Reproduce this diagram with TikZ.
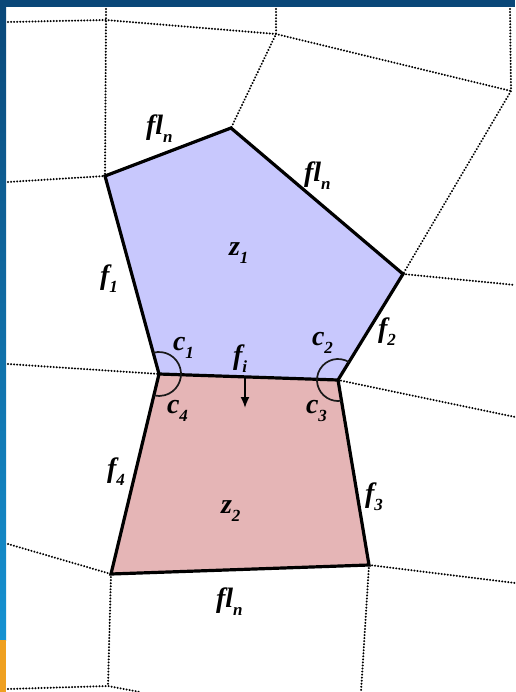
\documentclass[tikz,border=0pt]{standalone}
\usepackage{fontspec}
\setmainfont{Liberation Serif}
\usetikzlibrary{arrows.meta}
\definecolor{bandtop}{HTML}{0A4778}
\definecolor{bandbot}{HTML}{1592D2}
\definecolor{bandor}{HTML}{EFA020}
\definecolor{zoneA}{HTML}{C8C8FD}
\definecolor{zoneB}{HTML}{E5B5B6}
\newcommand\lbl[2]{\fontsize{28}{28}\selectfont\bfseries\itshape #1\raisebox{-8pt}{\fontsize{17}{17}\selectfont #2}}
\begin{document}
\begin{tikzpicture}[x=1pt,y=-1pt,
  grid/.style={line width=2.2pt,black,line cap=round,dash pattern=on 0.05pt off 3pt},
  edge/.style={line width=3.2pt,black,line join=miter},
  arcst/.style={line width=1.7pt,black!90},
  lab/.style={anchor=base west,inner sep=0pt,outer sep=0pt}]
\useasboundingbox (0,0) rectangle (515,692);
\fill[white] (0,0) rectangle (515,692);
\shade[top color=bandtop,bottom color=bandbot] (0,0) rectangle (6,640);
\fill[bandor] (0,640) rectangle (6,692);
\fill[bandtop] (0,0) rectangle (515,7);
% vertices
\coordinate (A) at (105,176);
\coordinate (B) at (231,128);
\coordinate (C) at (403,274);
\coordinate (D) at (338,380);
\coordinate (E) at (159,374);
\coordinate (F) at (369,565);
\coordinate (G) at (111,574);
% grid points
\coordinate (T0) at (8,22);
\coordinate (T1) at (106,20);
\coordinate (T2) at (276,34);
\coordinate (T3) at (511,91);
\coordinate (U1) at (106,9);
\coordinate (U2) at (276,9);
\coordinate (U3) at (510,9);
\coordinate (LA) at (8,182);
\coordinate (LE) at (8,364);
\coordinate (LG) at (8,544);
\coordinate (RC) at (515,285);
\coordinate (RD) at (515,417);
\coordinate (RF) at (515,583);
\coordinate (BF) at (361,692);
\coordinate (H) at (108,686);
\coordinate (HL) at (8,689);
\coordinate (HR) at (140,692);
% fills
\fill[zoneA] (A) -- (B) -- (C) -- (D) -- (E) -- cycle;
\fill[zoneB] (E) -- (D) -- (F) -- (G) -- cycle;
% dotted grid
\draw[grid] (T0) -- (T1) -- (T2) -- (T3);
\draw[grid] (U1) -- (T1) -- (A);
\draw[grid] (U2) -- (T2) -- (B);
\draw[grid] (U3) -- (T3) -- (C);
\draw[grid] (LA) -- (A);
\draw[grid] (LE) -- (E);
\draw[grid] (LG) -- (G);
\draw[grid] (C) -- (RC);
\draw[grid] (D) -- (RD);
\draw[grid] (F) -- (RF);
\draw[grid] (F) -- (BF);
\draw[grid] (G) -- (H);
\draw[grid] (HL) -- (H) -- (HR);
% solid edges
\draw[edge] (A) -- (B) -- (C) -- (D) -- (E) -- cycle;
\draw[edge] (E) -- (G) -- (F) -- (D);
% angle arcs
\draw[arcst] ([shift={(-105:22)}]E) arc[start angle=-105,end angle=103.5,radius=22];
\draw[arcst] ([shift={(-58.5:21)}]D) arc[start angle=-58.5,end angle=-279.5,radius=21];
% normal arrow
\coordinate (M) at (245,378);
\coordinate (Mt) at (245,408);
\draw[line width=1.8pt,-{Latex[length=11pt,width=9pt]}] (M) -- (Mt);
% labels
\node[lab] (l1) at (146,135) {\lbl{fl}{n}};
\node[lab] (l2) at (304,182) {\lbl{fl}{n}};
\node[lab] (l3) at (229,255) {\lbl{z}{1}};
\node[lab] (l4) at (100,284) {\lbl{f}{1}};
\node[lab] (l5) at (378,337) {\lbl{f}{2}};
\node[lab] (l6) at (173,350) {\lbl{c}{1}};
\node[lab] (l7) at (233,364) {\lbl{f}{i}};
\node[lab] (l8) at (312,345) {\lbl{c}{2}};
\node[lab] (l9) at (167,413) {\lbl{c}{4}};
\node[lab] (l10) at (306,413) {\lbl{c}{3}};
\node[lab] (l11) at (107,477) {\lbl{f}{4}};
\node[lab] (l12) at (221,513) {\lbl{z}{2}};
\node[lab] (l13) at (365,502) {\lbl{f}{3}};
\node[lab] (l14) at (216,607) {\lbl{fl}{n}};
\end{tikzpicture}
\end{document}
